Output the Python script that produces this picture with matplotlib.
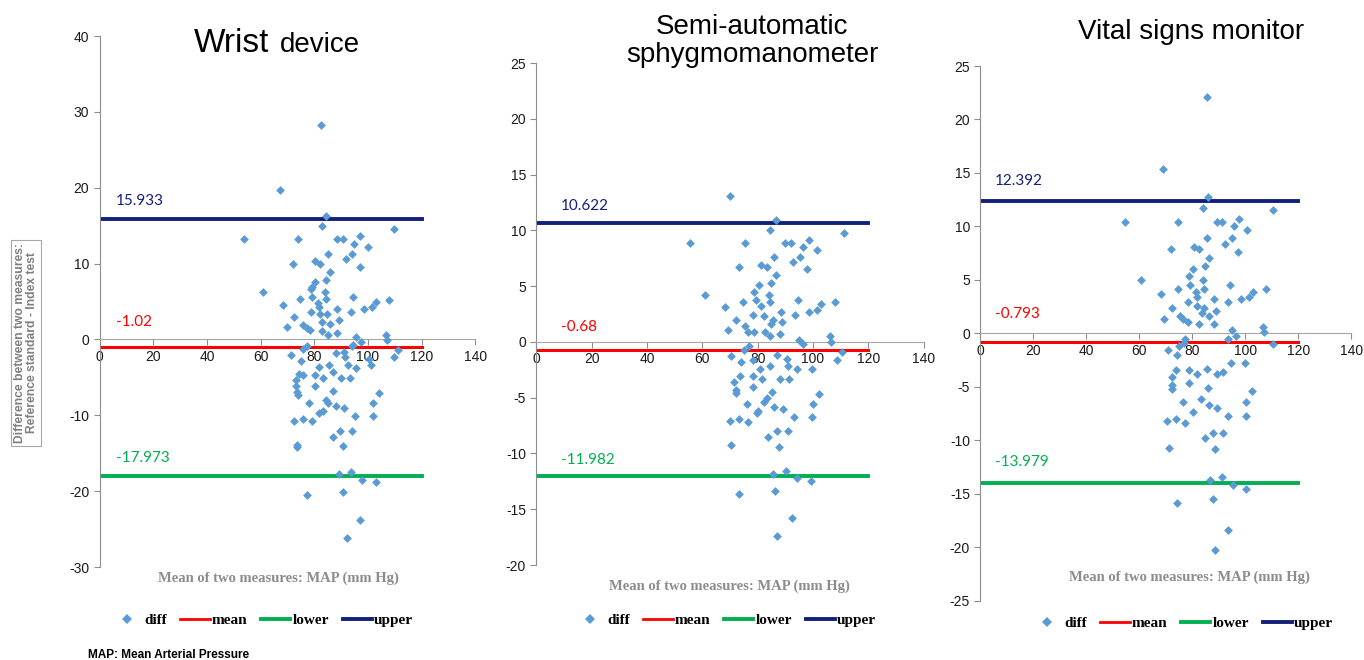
import numpy as np
import matplotlib
matplotlib.use("Agg")
import matplotlib.pyplot as plt
from matplotlib.lines import Line2D

plt.rcParams["axes.unicode_minus"] = False

# ---- data (Bland-Altman plots) ----
wrist_x = [82.5, 67.3, 84.4, 82.9, 109.7, 53.9, 73.9, 88.5, 90.6, 96.9, 94.9, 100.0, 84.9, 94.0,
           91.8, 80.3, 82.2, 72.1, 96.9, 85.9, 84.4, 80.1, 79.2, 78.6, 84.0, 60.7, 94.5, 79.1,
           74.6, 84.4, 107.7, 102.8, 101.6, 81.4, 81.6, 68.2, 88.5, 98.4, 78.6, 93.7, 82.0, 72.4,
           84.8, 89.1, 82.8, 85.9, 75.9, 77.2, 69.8, 78.4, 82.9, 88.6, 85.0, 106.6, 95.6, 106.9,
           97.3, 94.0, 77.3, 75.8, 111.0,
           71.4, 75.2, 88.1, 91.2, 91.6, 94.3, 109.7, 100.5, 101.1, 95.5, 92.4, 85.4, 86.8, 81.9,
           80.1, 83.2, 74.2, 75.7, 90.0, 93.1, 73.0, 73.2, 73.6, 73.8, 80.1, 87.1, 104.0, 84.4,
           85.0, 77.9, 88.1, 101.7, 91.2, 83.2, 81.9, 95.2, 102.0, 72.4, 75.7, 79.2, 89.7, 93.9,
           86.8, 73.5, 73.4, 90.8, 89.3, 93.8, 97.9, 103.0, 77.3, 90.5, 96.9, 92.1]
wrist_y = [28.3, 19.7, 16.3, 14.9, 14.6, 13.3, 13.3, 13.3, 13.3, 13.6, 12.6, 12.2, 11.3, 11.3,
           10.6, 10.3, 9.9, 9.9, 9.6, 8.9, 7.9, 7.6, 6.9, 6.6, 6.2, 6.2, 5.6, 5.6,
           5.3, 5.3, 5.2, 4.9, 4.3, 4.8, 4.3, 4.6, 4.0, 4.0, 3.6, 3.6, 3.3, 2.9,
           3.3, 2.6, 2.3, 2.0, 1.9, 1.5, 1.6, 1.2, 1.1, 0.9, 0.6, 0.6, 0.3, -0.1,
           -0.4, -0.8, -0.8, -1.2, -1.4,
           -2.1, -2.8, -1.8, -1.6, -2.3, -0.7, -2.3, -2.6, -3.4, -3.8, -3.4, -3.4, -4.3, -3.6,
           -4.7, -5.1, -4.5, -4.7, -5.1, -5.1, -5.4, -6.2, -6.9, -7.3, -6.1, -6.8, -7.1, -8.0,
           -8.4, -8.4, -8.8, -8.4, -9.1, -9.4, -9.7, -10.1, -10.1, -10.8, -10.5, -10.8, -12.1, -12.1,
           -12.8, -13.9, -14.2, -14.1, -17.8, -17.5, -18.5, -18.8, -20.5, -20.1, -23.8, -26.2]

semi_x = [69.9, 86.6, 84.6, 111.3, 55.4, 75.4, 89.9, 91.9, 98.4, 96.5, 101.5, 86.0, 95.3, 92.8,
          81.2, 83.3, 73.1, 97.7, 86.7, 84.9, 80.5, 78.8, 61.0, 84.2, 94.5, 79.5, 103.0, 107.8,
          68.3, 74.6, 81.3, 84.6, 98.4, 101.5, 93.5, 88.4, 78.4, 72.2, 82.3, 85.6, 84.9, 88.9,
          75.3, 76.6, 69.3, 78.8, 82.7, 84.5, 88.1, 106.1, 106.4, 94.9, 96.5, 75.2, 77.0,
          70.4, 74.0, 78.4, 80.8, 84.6, 86.9, 90.5, 90.9, 94.1, 99.5, 108.6, 110.4, 73.6, 71.6,
          72.1, 72.3, 78.4, 81.5, 78.4, 85.3, 88.1, 91.4, 102.1, 99.9, 99.6, 76.0, 82.4, 83.2,
          86.0, 89.0, 93.1, 80.2, 79.6, 70.0, 73.3, 76.6, 87.1, 83.8, 91.0, 87.6, 70.3, 85.6,
          90.3, 94.1, 99.2, 73.3, 86.4, 92.3, 87.1]
semi_y = [13.1, 10.9, 10.0, 9.8, 8.9, 8.9, 8.9, 8.9, 9.1, 8.5, 8.2, 7.6, 7.6, 7.2,
          6.9, 6.7, 6.7, 6.5, 6.0, 5.3, 5.1, 4.5, 4.2, 4.2, 3.8, 3.8, 3.4, 3.6,
          3.1, 3.6, 3.2, 3.6, 2.7, 2.9, 2.4, 2.7, 2.4, 2.0, 2.3, 2.0, 1.6, 1.8,
          1.4, 0.9, 1.1, 0.9, 0.9, 0.5, 0.7, 0.5, 0.0, 0.2, -0.2, -0.7, -0.4,
          -1.3, -1.8, -1.6, -2.4, -2.2, -1.2, -1.5, -2.2, -2.4, -2.4, -1.6, -0.9, -3.1, -3.6,
          -4.3, -4.6, -3.1, -3.3, -4.0, -4.5, -3.3, -3.3, -4.7, -5.6, -6.7, -5.6, -5.4, -5.0,
          -5.8, -6.0, -6.7, -6.2, -6.4, -7.1, -6.9, -7.2, -8.0, -8.5, -8.0, -9.4, -9.2, -11.8,
          -11.6, -12.2, -12.5, -13.6, -13.4, -15.8, -17.4]

vital_x = [85.4, 68.8, 85.8, 83.9, 110.6, 54.7, 74.7, 89.2, 91.3, 97.7, 95.8, 100.8, 85.4, 94.9,
           92.3, 80.8, 82.7, 72.1, 97.4, 86.2, 84.8, 80.1, 78.9, 60.6, 84.1, 94.2, 79.1, 74.5,
           84.4, 107.7, 102.8, 101.5, 81.4, 81.6, 68.2, 88.3, 98.4, 78.5, 93.3, 81.8, 72.2, 84.5,
           88.8, 83.6, 86.2, 75.4, 69.3, 76.6, 78.3, 82.6, 88.3, 106.7, 106.9, 95.1, 96.5, 93.4,
           77.4, 76.8, 110.3, 70.7, 75.0,
           74.1, 78.9, 81.9, 85.4, 91.7, 89.2, 94.5, 99.9, 73.9, 72.4, 72.2, 72.4, 78.9, 85.8,
           102.4, 100.3, 100.3, 76.4, 83.1, 86.4, 89.5, 93.6, 80.4, 70.6, 73.8, 77.3, 87.9, 84.9,
           91.7, 88.6, 71.2, 86.7, 91.3, 95.2, 100.3, 74.3, 87.7, 93.6, 88.6]
vital_y = [22.1, 15.4, 12.8, 11.7, 11.5, 10.4, 10.4, 10.4, 10.4, 10.7, 10.0, 9.7, 8.9, 8.9,
           8.4, 8.1, 7.9, 7.9, 7.6, 7.1, 6.3, 6.0, 5.4, 5.0, 5.0, 4.5, 4.5, 4.2,
           4.2, 4.2, 3.9, 3.4, 3.9, 3.4, 3.7, 3.2, 3.2, 2.9, 2.9, 2.6, 2.4, 2.4,
           2.1, 1.9, 1.6, 1.6, 1.4, 1.4, 1.1, 0.9, 0.9, 0.6, 0.1, 0.3, -0.2, -0.5,
           -0.5, -0.9, -1.0, -1.5, -1.2,
           -2.0, -3.4, -3.8, -3.3, -3.6, -3.8, -2.8, -2.8, -3.4, -4.1, -4.8, -5.2, -4.6, -5.1,
           -5.4, -6.4, -7.7, -6.4, -6.1, -6.7, -7.0, -7.7, -7.3, -8.2, -8.0, -8.4, -9.3, -9.8,
           -9.3, -10.8, -10.7, -13.7, -13.4, -14.2, -14.5, -15.8, -15.5, -18.4, -20.2]

# limits of agreement: upper, mean, lower
wrist_loa = [15.933, -1.02, -17.973]
semi_loa = [10.622, -0.68, -11.982]
vital_loa = [12.392, -0.793, -13.979]

W, H = 1364, 660
fig = plt.figure(figsize=(W / 100, H / 100), dpi=100)

BLUE = "#5b9bd5"
RED = "#ff0000"
GREEN = "#00b050"
NAVY = "#13207a"


def px(x, y):
    return x / W, 1 - y / H


def panel(rect, xs, ys, loa, yticks, ylim, lab_x, lab_ys):
    ax = fig.add_axes(rect)
    ax.scatter(xs, ys, marker="D", s=20, color=BLUE, zorder=3, linewidths=0)
    up, mn, lo = loa
    ax.plot([0, 120], [mn, mn], color=RED, lw=2.2, zorder=2)
    ax.plot([0, 120], [lo, lo], color=GREEN, lw=2.8, zorder=2)
    ax.plot([0, 120], [up, up], color=NAVY, lw=2.8, zorder=2)
    for val, yy, c in zip(loa, lab_ys, [NAVY, RED, GREEN]):
        ax.text(lab_x, yy, f"{val:g}", color=c, fontsize=11, family="Lato",
                ha="left", va="bottom")
    ax.set_xlim(0, 140)
    ax.set_ylim(*ylim)
    ax.set_xticks(range(0, 141, 20))
    ax.set_yticks(yticks)
    for s in ["top", "right"]:
        ax.spines[s].set_visible(False)
    ax.spines["bottom"].set_position(("data", 0))
    ax.spines["bottom"].set_color("#a6a6a6")
    ax.spines["left"].set_color("#8c8c8c")
    ax.tick_params(axis="both", colors="#8c8c8c", labelcolor="#1a1a1a",
                   labelsize=10, length=4)
    for t in ax.get_xticklabels() + ax.get_yticklabels():
        t.set_family("Liberation Sans")
    return ax


ax1 = panel([0.0731, 0.1409, 0.2754, 0.8045], wrist_x, wrist_y, wrist_loa,
            range(-30, 41, 10), (-30, 40), 6, [17.3, 1.4, -16.6])
ax2 = panel([0.3932, 0.1439, 0.2840, 0.7606], semi_x, semi_y, semi_loa,
            range(-20, 26, 5), (-20, 25), 9, [11.6, 0.7, -11.2])
ax3 = panel([0.7187, 0.0894, 0.2720, 0.8106], vital_x, vital_y, vital_loa,
            range(-25, 26, 5), (-25, 25), 5.5, [13.6, 1.2, -12.7])

# titles
fig.text(*px(194, 43), "Wrist", fontsize=24, family="Liberation Sans", ha="left", va="center")
fig.text(*px(280, 45), "device", fontsize=20, family="Liberation Sans", ha="left", va="center")
fig.text(*px(752, 41), "Semi-automatic\nsphygmomanometer", fontsize=20,
         family="Liberation Sans", ha="center", va="center", linespacing=1.05)
fig.text(*px(1191, 32), "Vital signs monitor", fontsize=20, family="Liberation Sans",
         ha="center", va="center")

# x labels
for cx, cy in [(278, 578), (729, 586), (1189, 577)]:
    fig.text(*px(cx, cy), "Mean of two measures: MAP (mm Hg)", fontsize=10.5,
             family="Liberation Serif", weight="bold", color="#8c8c8c",
             ha="center", va="center")

# y label
fig.text(*px(26, 343), "Difference between two measures:\nReference standard - Index test",
         rotation=90, fontsize=8.7, family="Liberation Sans", weight="bold",
         color="#7f7f7f", ha="center", va="center", linespacing=1.1,
         bbox=dict(boxstyle="square,pad=0.25", fc="white", ec="#a6a6a6", lw=0.8))

# legends
handles = [Line2D([], [], marker="D", ls="none", color=BLUE, markersize=5, markeredgewidth=0),
           Line2D([], [], color=RED, lw=2),
           Line2D([], [], color=GREEN, lw=2.8),
           Line2D([], [], color=NAVY, lw=2.8)]
names = ["diff", "mean", "lower", "upper"]
for ax, (cx, cy) in zip([ax1, ax2, ax3], [(263, 620), (726, 620), (1183, 623)]):
    ax.legend(handles, names, loc="center", bbox_to_anchor=px(cx, cy),
              bbox_transform=fig.transFigure, ncol=4, frameon=False,
              handlelength=1.9, handletextpad=0.15, columnspacing=0.9,
              prop=dict(family="Liberation Serif", weight="bold", size=11))

fig.text(*px(88, 655), "MAP: Mean Arterial Pressure", fontsize=8.5,
         family="Liberation Sans", weight="bold", ha="left", va="center")

fig.savefig("out.png", dpi=100)
